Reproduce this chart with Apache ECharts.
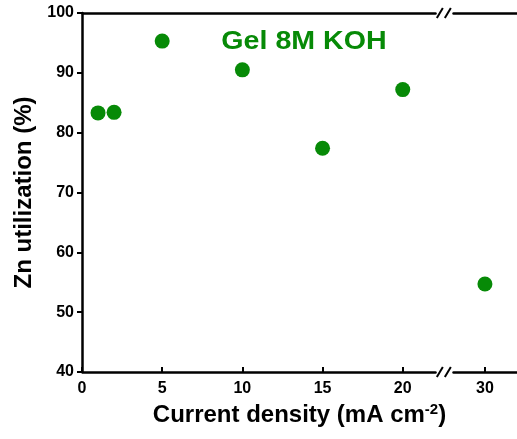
<!DOCTYPE html>
<html>
<head>
<meta charset="utf-8">
<script src="https://cdn.jsdelivr.net/npm/echarts@6/dist/echarts.min.js"></script>
<style>
  html, body { margin: 0; padding: 0; background: #fff; }
  #chart { width: 517px; height: 439px; }
</style>
</head>
<body>
<div id="chart"></div>
<script>
// Current density (mA cm^-2) and measured Zn utilization (%)
const currentDensity = [1, 2, 5, 10, 15, 20, 30];
const znUtilization = [83.3, 83.4, 95.3, 90.5, 77.4, 87.2, 54.7];
const xTickLabels = [0, 5, 10, 15, 20, 30];
const yTickLabels = [40, 50, 60, 70, 80, 90, 100];
const seriesLabel = 'Gel 8M KOH';

const GREEN = '#078a07';
const FONT = '"Liberation Sans", Arial, sans-serif';
const AXIS_W = 2.5;

// the x axis skips the empty stretch between 20 and 30
const xBreak = { start: 22, end: 28, gap: 1.125 };

const chart = echarts.init(document.getElementById('chart'), null, { renderer: 'canvas' });

const baseX = {
  type: 'value',
  min: xTickLabels[0],
  max: 32,
  interval: 5,
  breaks: [xBreak],
  breakArea: {
    show: false,
    itemStyle: { opacity: 0 },
    zigzagAmplitude: 0
  },
  splitLine: { show: false },
  axisLine: { show: true, onZero: false, lineStyle: { color: '#000', width: AXIS_W } }
};

chart.setOption({
  animation: false,
  backgroundColor: '#fff',
  grid: { left: 82, right: 0, top: 13, bottom: 67, containLabel: false },
  xAxis: [
    Object.assign({}, baseX, {
      position: 'bottom',
      name: '{t|Current density (mA cm}{s|-2}{t|)}',
      nameLocation: 'middle',
      nameGap: 30,
      nameTextStyle: {
        rich: {
          t: { fontFamily: FONT, fontWeight: 'bold', fontSize: 24, color: '#000' },
          s: { fontFamily: FONT, fontWeight: 'bold', fontSize: 15, color: '#000', verticalAlign: 'top', padding: [0, 0, 12, 0] }
        }
      },
      axisTick: {
        show: true, inside: true, length: 5,
        customValues: xTickLabels,
        lineStyle: { color: '#000', width: 2 }
      },
      axisLabel: {
        show: true,
        margin: 9,
        customValues: xTickLabels,
        fontFamily: FONT, fontWeight: 'bold', fontSize: 16, color: '#000'
      }
    }),
    Object.assign({}, baseX, {
      position: 'top',
      axisTick: { show: false },
      axisLabel: { show: false }
    })
  ],
  yAxis: {
    type: 'value',
    min: yTickLabels[0],
    max: yTickLabels[yTickLabels.length - 1],
    interval: 10,
    name: 'Zn utilization (%)',
    nameLocation: 'middle',
    nameGap: 40,
    nameTextStyle: { fontFamily: FONT, fontWeight: 'bold', fontSize: 24, color: '#000' },
    splitLine: { show: false },
    axisLine: { show: true, lineStyle: { color: '#000', width: AXIS_W } },
    axisTick: { show: true, inside: false, length: 5, lineStyle: { color: '#000', width: 2 } },
    axisLabel: { margin: 8, fontFamily: FONT, fontWeight: 'bold', fontSize: 16, color: '#000' }
  },
  series: [{
    name: seriesLabel,
    type: 'scatter',
    xAxisIndex: 0,
    symbol: 'circle',
    symbolSize: 15,
    itemStyle: { color: GREEN, opacity: 1 },
    emphasis: { disabled: true },
    data: currentDensity.map((x, i) => [x, znUtilization[i]])
  }]
});

// series label and the "//" break marks on the top and bottom axis lines
function drawDecorations() {
  const xa = chart.convertToPixel({ xAxisIndex: 0 }, xBreak.start);
  const xb = chart.convertToPixel({ xAxisIndex: 0 }, xBreak.end);
  const cx = (xa + xb) / 2;
  const yTop = chart.convertToPixel({ yAxisIndex: 0 }, yTickLabels[yTickLabels.length - 1]);
  const yBot = chart.convertToPixel({ yAxisIndex: 0 }, yTickLabels[0]);

  function breakMark(cy) {
    return {
      type: 'group',
      x: cx, y: cy,
      children: [
        { type: 'rect', shape: { x: -3, y: -3, width: 6, height: 6 }, style: { fill: '#fff' }, z: 10 },
        { type: 'line', shape: { x1: -7, y1: 5, x2: -1, y2: -5 }, style: { stroke: '#000', lineWidth: 2 }, z: 11 },
        { type: 'line', shape: { x1: 1, y1: 5, x2: 7, y2: -5 }, style: { stroke: '#000', lineWidth: 2 }, z: 11 }
      ]
    };
  }

  chart.setOption({
    graphic: [
      breakMark(yTop),
      breakMark(yBot),
      {
        type: 'text',
        x: 304, y: 42,
        scaleX: 1.1,
        style: {
          text: seriesLabel,
          fontFamily: FONT, fontWeight: 'bold', fontSize: 26,
          fill: GREEN, textAlign: 'center', textVerticalAlign: 'middle'
        },
        z: 5
      }
    ]
  });
}
drawDecorations();
</script>
</body>
</html>
